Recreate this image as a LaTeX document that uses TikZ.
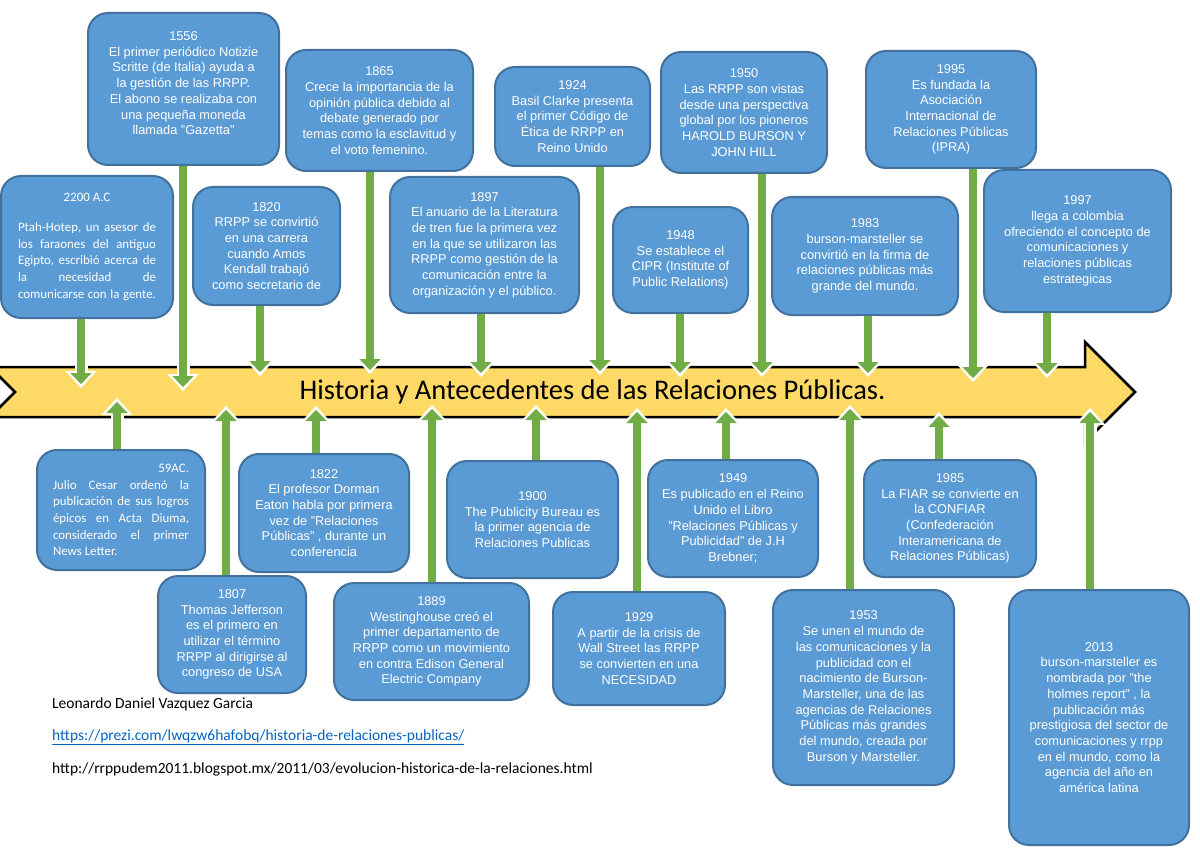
\documentclass[tikz,border=0pt]{standalone}
\usepackage{fontspec}
\setmainfont{Liberation Sans}
\newfontfamily\calfont{Carlito}
\usetikzlibrary{arrows.meta}
\definecolor{boxblue}{HTML}{5B9BD5}
\definecolor{boxborder}{HTML}{41719C}
\definecolor{arrowgreen}{HTML}{70AD47}
\definecolor{bandyellow}{HTML}{FFD966}
\definecolor{linkblue}{HTML}{0563C1}
\newcommand\garrow[2]{\draw[arrwhite] (#1) -- (#2); \draw[arrgreen] (#1) -- (#2);}
\begin{document}
\begin{tikzpicture}[x=1pt,y=-1pt,
  evbox/.style={draw=boxborder, fill=boxblue, line width=2pt, rounded corners=20pt,
    inner sep=0pt, align=center, text=white,
    font={\fontsize{12.8pt}{15.7pt}\selectfont}},
  calbox/.style={evbox, font={\calfont\fontsize{12.9pt}{16.7pt}\selectfont}},
  arrgreen/.style={draw=arrowgreen, line width=8pt,
    -{Triangle[length=11pt,width=21pt,line width=0.1pt]}},
  arrwhite/.style={draw=white, line width=13pt, shorten >=-4pt,
    -{Triangle[length=17pt,width=31pt,line width=0.1pt]}},
  footer/.style={anchor=base west, inner sep=0pt, font={\calfont\fontsize{15.5pt}{18pt}\selectfont}}]
\useasboundingbox (0,0) rectangle (1200,848);
\clip (0,0) rectangle (1200,848);

% timeline band
\draw[fill=bandyellow, draw=black, line width=2.5pt, line join=miter]
  (-10,367) -- (1085,367) -- (1085,342) -- (1135,392) -- (1085,442) -- (1085,417)
  -- (-10,417) -- (15,392) -- cycle;
\node[inner sep=0pt, font={\calfont\fontsize{28.5pt}{32pt}\selectfont}] (title) at (592.5,392)
  {Historia y Antecedentes de las Relaciones Públicas.};

% top boxes
\node[calbox, minimum width=172pt, minimum height=142pt] (b2200) at (87,247)
  {2200 A.C\\[13pt]
   \hbox to 138pt{Ptah-Hotep,\hfill un\hfill asesor\hfill de}\\
   \hbox to 138pt{los\hfill faraones\hfill del\hfill antiguo}\\
   \hbox to 138pt{Egipto,\hfill escribió\hfill acerca\hfill de}\\
   \hbox to 138pt{la\hfill necesidad\hfill de}\\
   \hbox to 138pt{comunicarse\hfill con\hfill la\hfill gente.}};
\node[evbox, minimum width=191pt, minimum height=152pt] (b1556) at (183.5,89)
  {1556\\El primer periódico Notizie\\Scritte (de Italia) ayuda a\\la gestión de las RRPP.\\El abono se realizaba con\\una pequeña moneda\\llamada "Gazetta"\\[-4pt]\mbox{}};
\node[evbox, minimum width=147pt, minimum height=118pt] (b1820) at (266.5,246)
  {1820\\RRPP se convirtió\\en una carrera\\cuando Amos\\Kendall trabajó\\como secretario de};
\node[evbox, minimum width=187pt, minimum height=121pt] (b1865) at (379.5,110.5)
  {1865\\Crece la importancia de la\\opinión pública debido al\\debate generado por\\temas como la esclavitud y\\el voto femenino.};
\node[evbox, minimum width=189pt, minimum height=136pt] (b1897) at (484.5,245)
  {1897\\El anuario de la Literatura\\de tren fue la primera vez\\en la que se utilizaron las\\RRPP como gestión de la\\comunicación entre la\\organización y el público.};
\node[evbox, minimum width=155pt, minimum height=99pt] (b1924) at (572.5,116.5)
  {1924\\Basil Clarke presenta\\el primer Código de\\Ética de RRPP en\\Reino Unido};
\node[evbox, minimum width=135pt, minimum height=106pt] (b1948) at (680.5,260)
  {1948\\Se establece el\\CIPR (Institute of\\Public Relations)};
\node[evbox, minimum width=166pt, minimum height=121pt] (b1950) at (744,112.5)
  {1950\\Las RRPP son vistas\\desde una perspectiva\\global por los pioneros\\HAROLD BURSON Y\\JOHN HILL};
\node[evbox, minimum width=186pt, minimum height=118pt] (b1983) at (865,256)
  {1983\\burson-marsteller se\\convirtió en la firma de\\relaciones públicas más\\grande del mundo.};
\node[evbox, minimum width=170pt, minimum height=117pt] (b1995) at (951,109.5)
  {1995\\Es fundada la\\Asociación\\Internacional de\\Relaciones Públicas\\(IPRA)};
\node[evbox, minimum width=187pt, minimum height=142pt] (b1997) at (1077.5,241)
  {1997\\llega a colombia\\ofreciendo el concepto de\\comunicaciones y\\relaciones públicas\\estrategicas};

% bottom boxes
\node[calbox, minimum width=168pt, minimum height=120pt] (b59) at (121,510)
  {\hbox to 136pt{\hfill 59AC.}\\
   \hbox to 136pt{Julio\hfill Cesar\hfill ordenó\hfill la}\\
   \hbox to 136pt{publicación\hfill de\hfill sus\hfill logros}\\
   \hbox to 136pt{épicos\hfill en\hfill Acta\hfill Diuma,}\\
   \hbox to 136pt{considerado\hfill el\hfill primer}\\
   \hbox to 136pt{News Letter.\hfill}};
\node[evbox, minimum width=148pt, minimum height=117pt] (b1807) at (232,634.5)
  {1807\\Thomas Jefferson\\es el primero en\\utilizar el término\\RRPP al dirigirse al\\congreso de USA};
\node[evbox, minimum width=170pt, minimum height=118pt] (b1822) at (324,513)
  {1822\\El profesor Dorman\\Eaton habla por primera\\vez de "Relaciones\\Públicas" , durante un\\conferencia};
\node[evbox, minimum width=195pt, minimum height=117pt] (b1889) at (431.5,641.5)
  {1889\\Westinghouse creó el\\primer departamento de\\RRPP como un movimiento\\en contra Edison General\\Electric Company};
\node[evbox, minimum width=171pt, minimum height=117pt] (b1900) at (532.5,519.5)
  {1900\\The Publicity Bureau es\\la primer agencia de\\Relaciones Publicas};
\node[evbox, minimum width=172pt, minimum height=113pt] (b1929) at (639,648.5)
  {1929\\A partir de la crisis de\\Wall Street las RRPP\\se convierten en una\\NECESIDAD};
\node[evbox, minimum width=170pt, minimum height=117pt] (b1949) at (733,518.5)
  {1949\\Es publicado en el Reino\\Unido el Libro\\"Relaciones Públicas y\\Publicidad" de J.H\\Brebner;};
\node[evbox, minimum width=181pt, minimum height=195pt] (b1953) at (863.5,687.5)
  {1953\\Se unen el mundo de\\las comunicaciones y la\\publicidad con el\\nacimiento de Burson-\\Marsteller, una de las\\agencias de Relaciones\\Públicas más grandes\\del mundo, creada por\\Burson y Marsteller.};
\node[evbox, minimum width=172pt, minimum height=117pt] (b1985) at (950,518.5)
  {1985\\La FIAR se convierte en\\la CONFIAR\\(Confederación\\Interamericana de\\Relaciones Públicas)};
\node[evbox, minimum width=180pt, minimum height=255pt] (b2013) at (1099,717.5)
  {2013\\burson-marsteller es\\nombrada por "the\\holmes report" , la\\publicación más\\prestigiosa del sector de\\comunicaciones y rrpp\\en el mundo, como la\\agencia del año en\\américa latina};

% arrow tips (green apex)
\coordinate (t2200) at (81,384);
\coordinate (t1556) at (183,387);
\coordinate (t1820) at (260,372);
\coordinate (t1865) at (370,370);
\coordinate (t1897) at (481,373);
\coordinate (t1924) at (600,371);
\coordinate (t1948) at (680,373);
\coordinate (t1950) at (762,373);
\coordinate (t1983) at (868,373);
\coordinate (t1995) at (973,378);
\coordinate (t1997) at (1047,374);
\coordinate (t59) at (117,402);
\coordinate (t1807) at (226,410);
\coordinate (t1822) at (316,410);
\coordinate (t1889) at (432,409);
\coordinate (t1900) at (536,409);
\coordinate (t1929) at (637,412);
\coordinate (t1949) at (726,412);
\coordinate (t1953) at (850,409);
\coordinate (t1985) at (939,416);
\coordinate (t2013) at (1090,412);

\foreach \n in {2200,1556,1820,1865,1897,1924,1948,1950,1983,1995,1997}{
  \garrow{b\n.south -| t\n}{t\n}
}
\foreach \n in {59,1807,1822,1889,1900,1929,1949,1953,1985,2013}{
  \garrow{b\n.north -| t\n}{t\n}
}

% footer
\node[footer] (author) at (52,708) {Leonardo Daniel Vazquez Garcia};
\node[footer, text=linkblue] (link1) at (52,740) {\underline{https://prezi.com/lwqzw6hafobq/historia-de-relaciones-publicas/}};
\node[footer] (link2) at (52,773) {http://rrppudem2011.blogspot.mx/2011/03/evolucion-historica-de-la-relaciones.html};
\end{tikzpicture}
\end{document}
